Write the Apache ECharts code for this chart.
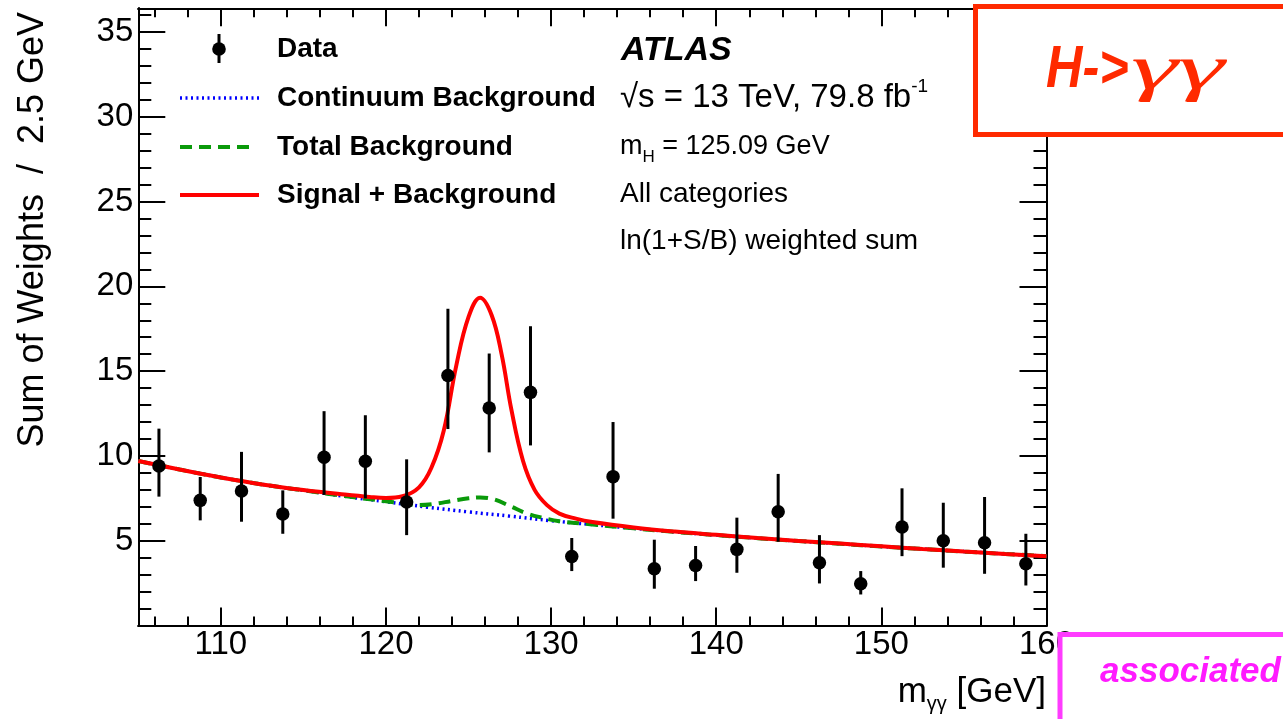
<!DOCTYPE html>
<html><head><meta charset="utf-8">
<script src="https://cdn.jsdelivr.net/npm/echarts@6/dist/echarts.min.js"></script>
<style>html,body{margin:0;padding:0;background:#fff}#c{width:1283px;height:719px}</style>
</head><body><div id="c"></div>
<script>
// ---- data ----
const binCenters = [106.25,108.75,111.25,113.75,116.25,118.75,121.25,123.75,126.25,128.75,131.25,133.75,136.25,138.75,141.25,143.75,146.25,148.75,151.25,153.75,156.25,158.75];
const dataValues = [9.41,7.38,7.93,6.57,9.92,9.69,7.28,14.74,12.83,13.75,4.07,8.78,3.35,3.54,4.49,6.71,3.70,2.46,5.81,5.00,4.88,3.64];
const errHigh = [11.61,8.76,10.24,7.97,12.64,12.40,9.80,18.68,16.04,17.65,5.16,12.00,5.06,4.69,6.36,8.94,5.33,3.21,8.09,7.24,7.58,5.41];
const errLow  = [7.60,6.20,6.12,5.41,7.70,7.50,5.33,11.59,10.21,10.62,3.21,6.30,2.17,2.62,3.11,4.94,2.48,1.83,4.09,3.41,3.05,2.36];

const contX = [105,107.5,110,112.5,115,117.5,120,122.5,125,127.5,130,132.5,135,137.5,140,142.5,145,147.5,150,152.5,155,157.5,160];
const contY = [9.70,9.20,8.73,8.32,7.97,7.62,7.30,6.98,6.70,6.45,6.18,5.95,5.73,5.52,5.33,5.15,4.98,4.82,4.66,4.51,4.36,4.22,4.09];

const totX = [105,107.5,110,112.5,115,117.5,120,121,122,123,124,125,125.7,126.5,127.5,128.5,129.5,130.5,132.5,135,137.5,140,142.5,145,147.5,150,152.5,155,157.5,160];
const totY = [9.70,9.20,8.73,8.32,7.97,7.63,7.33,7.19,7.10,7.18,7.35,7.50,7.55,7.45,7.05,6.62,6.35,6.15,5.96,5.73,5.52,5.33,5.15,4.98,4.82,4.66,4.51,4.36,4.22,4.09];

const sbX = [105,107.5,110,112.5,115,117.5,119,120,121,122,122.75,123.5,124.25,125,125.7,126.4,127,127.6,128.3,129,129.75,130.5,131.5,132.5,135,137.5,140,142.5,145,147.5,150,152.5,155,157.5,160];
const sbY = [9.70,9.20,8.73,8.32,7.99,7.72,7.58,7.52,7.62,8.15,9.30,11.50,15.30,18.20,19.33,18.30,16.00,12.70,9.70,8.00,7.10,6.60,6.30,6.10,5.78,5.54,5.35,5.16,4.99,4.83,4.67,4.51,4.36,4.22,4.09];

const xMajorTicks = [110,120,130,140,150,160];
const xMinorTicks = [106,108,112,114,116,118,122,124,126,128,132,134,136,138,142,144,146,148,152,154,156,158];
const yMajorTicks = [0,5,10,15,20,25,30,35];
const yLabelTicks = [5,10,15,20,25,30,35];
const yMinorTicks = [1,2,3,4,6,7,8,9,11,12,13,14,16,17,18,19,21,22,23,24,26,27,28,29,31,32,33,34,36];

const FONT = 'Liberation Sans, Arial, Helvetica, sans-serif';
const zip = (a,b) => a.map((v,i)=>[v,b[i]]);

function xAx(pos, ticks, len, labels){
  return {type:'value', min:105, max:160, position:pos, gridIndex:0,
    axisLine:{show:true, onZero:false, lineStyle:{color:'#000', width:2}},
    axisTick:{show:true, inside:true, length:len, customValues:ticks, lineStyle:{color:'#000', width:2}},
    axisLabel: labels ? {show:true, customValues:labels, fontSize:33, color:'#000', fontFamily:FONT, margin:3} : {show:false},
    splitLine:{show:false}, minorTick:{show:false}};
}
function yAx(pos, ticks, len, labels){
  return {type:'value', min:0, max:36.4, position:pos, gridIndex:0,
    axisLine:{show:true, onZero:false, lineStyle:{color:'#000', width:2}},
    axisTick:{show:true, inside:true, length:len, customValues:ticks, lineStyle:{color:'#000', width:2}},
    axisLabel: labels ? {show:true, customValues:labels, fontSize:33, color:'#000', fontFamily:FONT, margin:5} : {show:false},
    splitLine:{show:false}, minorTick:{show:false}};
}

const chart = echarts.init(document.getElementById('c'), null, {renderer:'canvas'});
const option = {
  animation:false,
  backgroundColor:'#fff',
  grid:{left:138.3, top:8.3, right:236.5, bottom:93.5, containLabel:false},
  xAxis:[xAx('bottom', xMajorTicks, 18, xMajorTicks), xAx('bottom', xMinorTicks, 9, null),
         xAx('top', xMajorTicks, 18, null), xAx('top', xMinorTicks, 9, null)],
  yAxis:[yAx('left', yMajorTicks, 27, yLabelTicks), yAx('left', yMinorTicks, 13, null),
         yAx('right', yMajorTicks, 27, null), yAx('right', yMinorTicks, 13, null)],
  series:[
    {type:'line', name:'Continuum Background', data:zip(contX, contY), smooth:0.4, showSymbol:false, symbol:'none',
     lineStyle:{color:'#0000FF', width:3.5, type:[2,3.5]}, z:2},
    {type:'line', name:'Total Background', data:zip(totX, totY), smooth:0.4, showSymbol:false, symbol:'none',
     lineStyle:{color:'#0A9A0A', width:4, type:[12,7]}, z:3},
    {type:'line', name:'Signal + Background', data:zip(sbX, sbY), smooth:0.4, showSymbol:false, symbol:'none',
     lineStyle:{color:'#FF0000', width:4}, z:4},
    {type:'custom', name:'err', data:binCenters.map((x,i)=>[x, errLow[i], errHigh[i]]), z:5,
     renderItem:function(params, api){
       const p1 = api.coord([api.value(0), api.value(1)]);
       const p2 = api.coord([api.value(0), api.value(2)]);
       return {type:'line', shape:{x1:p1[0], y1:p1[1], x2:p2[0], y2:p2[1]}, style:{stroke:'#000', lineWidth:3}};
     }},
    {type:'scatter', name:'Data', data:zip(binCenters, dataValues), symbol:'circle', symbolSize:13.5,
     itemStyle:{color:'#000', opacity:1}, z:6}
  ],
  graphic:[
    // y axis title
    {type:'text', x:33, y:12, rotation:Math.PI/2, z:50,
     style:{text:'Sum of Weights  /  2.5 GeV', font:'36px '+FONT, fill:'#000', align:'right', verticalAlign:'middle'}},
    // x axis title
    {type:'text', x:1046, y:692, z:50,
     style:{text:'{n|m}{s|γγ}{n| [GeV]}', align:'right', verticalAlign:'middle',
       rich:{n:{fontSize:35, fontFamily:FONT, fill:'#000', lineHeight:44, verticalAlign:'middle'},
             s:{fontSize:20, fontFamily:FONT, fill:'#000', lineHeight:44, verticalAlign:'bottom'}}}},
    // legend
    {type:'line', shape:{x1:219, y1:34, x2:219, y2:63}, style:{stroke:'#000', lineWidth:3}, z:50},
    {type:'circle', shape:{cx:219, cy:49, r:6.8}, style:{fill:'#000'}, z:50},
    {type:'text', x:277, y:49, z:50, style:{text:'Data', font:'bold 28px '+FONT, fill:'#000', verticalAlign:'middle'}},
    {type:'line', shape:{x1:180, y1:98, x2:259, y2:98}, style:{stroke:'#0000FF', lineWidth:3.5, lineDash:[2,3.5]}, z:50},
    {type:'text', x:277, y:98, z:50, style:{text:'Continuum Background', font:'bold 28px '+FONT, fill:'#000', verticalAlign:'middle'}},
    {type:'line', shape:{x1:180, y1:147, x2:250, y2:147}, style:{stroke:'#0A9A0A', lineWidth:4, lineDash:[12,7]}, z:50},
    {type:'text', x:277, y:147, z:50, style:{text:'Total Background', font:'bold 28px '+FONT, fill:'#000', verticalAlign:'middle'}},
    {type:'line', shape:{x1:180, y1:195, x2:259, y2:195}, style:{stroke:'#FF0000', lineWidth:4}, z:50},
    {type:'text', x:277, y:195, z:50, style:{text:'Signal + Background', font:'bold 28px '+FONT, fill:'#000', verticalAlign:'middle'}},
    // ATLAS labels
    {type:'text', x:621, y:51, z:50, style:{text:'ATLAS', font:'italic bold 34px '+FONT, fill:'#000', verticalAlign:'middle'}},
    {type:'text', x:620, y:98, z:50,
     style:{text:'{n|√s = 13 TeV, 79.8 fb}{s|-1}', verticalAlign:'middle',
       rich:{n:{fontSize:33, fontFamily:FONT, fill:'#000', lineHeight:42, verticalAlign:'middle'},
             s:{fontSize:19, fontFamily:FONT, fill:'#000', lineHeight:42, verticalAlign:'top'}}}},
    {type:'text', x:620, y:147, z:50,
     style:{text:'{n|m}{s|H}{n| = 125.09 GeV}', verticalAlign:'middle',
       rich:{n:{fontSize:27, fontFamily:FONT, fill:'#000', lineHeight:38, verticalAlign:'middle'},
             s:{fontSize:17, fontFamily:FONT, fill:'#000', lineHeight:38, verticalAlign:'bottom'}}}},
    {type:'text', x:620, y:194, z:50, style:{text:'All categories', font:'28px '+FONT, fill:'#000', verticalAlign:'middle'}},
    {type:'text', x:620, y:241, z:50, style:{text:'ln(1+S/B) weighted sum', font:'28px '+FONT, fill:'#000', verticalAlign:'middle'}},
    // red H->yy box
    {type:'rect', shape:{x:975.5, y:6.5, width:330, height:128}, style:{fill:'#fff', stroke:'#FF2A00', lineWidth:5}, z:60},
    {type:'text', x:1046, y:70, scaleX:0.84, z:61,
     style:{text:'H->', font:'italic bold 60px '+FONT, fill:'#FF2A00', verticalAlign:'middle'}},
    {type:'text', x:1131, y:71, scaleX:1.85, z:61,
     style:{text:'γγ', font:'italic 64px Liberation Serif, Times New Roman, serif', fill:'#FF2A00', verticalAlign:'middle'}},
    // magenta box
    {type:'rect', shape:{x:1060, y:634.5, width:260, height:120}, style:{fill:'#fff', stroke:'#FF3CFF', lineWidth:5}, z:60},
    {type:'text', x:1100, y:672, z:61, style:{text:'associated', font:'italic bold 35px '+FONT, fill:'#FF1AFF', verticalAlign:'middle'}}
  ]
};
chart.setOption(option);
</script>
</body></html>
